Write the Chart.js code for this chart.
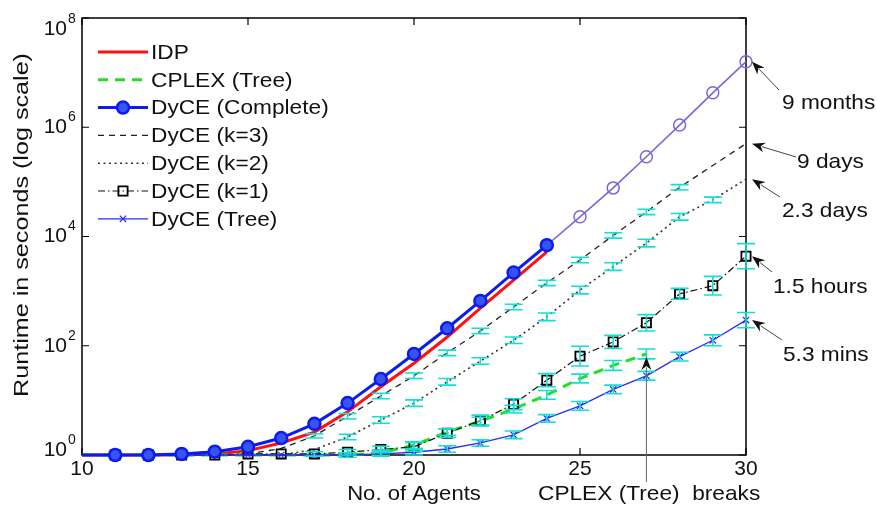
<!DOCTYPE html>
<html>
<head>
<meta charset="utf-8">
<script src="https://cdn.jsdelivr.net/npm/chart.js@4.4.0/dist/chart.umd.min.js"></script>
<style>
  html, body { margin: 0; padding: 0; background: #fff; }
  #wrap { width: 877px; height: 514px; }
</style>
</head>
<body>
<div id="wrap"><canvas id="chart"></canvas></div>
<script>
// No. of agents (x axis)
const agents = [10, 11, 12, 13, 14, 15, 16, 17, 18, 19, 20, 21, 22, 23, 24, 25, 26, 27, 28, 29, 30];

// Runtimes as log10(seconds)
const idpExp        = [0, 0, 0, 0, 0.02, 0.08, 0.22, 0.42, 0.79, 1.25, 1.68, 2.16, 2.69, 3.2, 3.72];           // 10..24
const cplexExp      = [0, 0, 0, 0, 0, 0, 0, 0, 0, 0.04, 0.18, 0.42, 0.62, 0.84, 1.1, 1.4, 1.64, 1.85];      // 10..27
const completeExp   = [0, 0, 0, 0.02, 0.06, 0.15, 0.31, 0.57, 0.95, 1.39, 1.85, 2.32, 2.82, 3.34, 3.84];     // 10..24
const completeExtX  = [24, 25, 26, 27, 28, 29, 30];
const completeExtExp = [3.84, 4.36, 4.89, 5.46, 6.04, 6.63, 7.2];
const k3Exp   = [0, 0, 0, 0, 0, 0.02, 0.12, 0.35, 0.71, 1.08, 1.45, 1.87, 2.27, 2.71, 3.15, 3.57, 4.02, 4.45, 4.9, 5.3, 5.7];
const k2Exp   = [0, 0, 0, 0, 0, 0, 0, 0.1, 0.33, 0.64, 0.95, 1.34, 1.72, 2.1, 2.53, 3.02, 3.45, 3.88, 4.36, 4.67, 5.05];
const k1Exp   = [0, 0, 0, 0, 0, 0.02, 0.02, 0.02, 0.05, 0.1, 0.15, 0.4, 0.63, 0.93, 1.37, 1.81, 2.07, 2.42, 2.95, 3.1, 3.64];
const treeExp = [0, 0, 0, 0, 0, 0, 0, 0, 0, 0.02, 0.05, 0.11, 0.22, 0.37, 0.67, 0.9, 1.2, 1.45, 1.8, 2.1, 2.47];

// Error bar half widths (log10 units)
const cplexErr = [0, 0, 0, 0, 0, 0, 0, 0, 0.04, 0.05, 0.06, 0.06, 0.07, 0.07, 0.08, 0.08, 0.09, 0.09];
const k3Err   = [0, 0, 0, 0, 0, 0, 0, 0.04, 0.05, 0.05, 0.05, 0.05, 0.05, 0.05, 0.05, 0.05, 0.05, 0.05, 0.05, 0, 0];
const k2Err   = [0, 0, 0, 0, 0, 0, 0, 0, 0.05, 0.06, 0.06, 0.06, 0.06, 0.06, 0.07, 0.07, 0.07, 0.07, 0.06, 0.05, 0];
const k1Err   = [0, 0, 0, 0, 0, 0, 0, 0.04, 0.05, 0.06, 0.08, 0.08, 0.1, 0.1, 0.12, 0.18, 0.12, 0.15, 0.1, 0.17, 0.23];
const treeErr = [0, 0, 0, 0, 0, 0, 0, 0, 0, 0.04, 0.05, 0.06, 0.06, 0.07, 0.07, 0.08, 0.08, 0.08, 0.08, 0.1, 0.14];

// Axis ticks
const xTicks = [10, 15, 20, 25, 30];
const yTickExps = [0, 2, 4, 6, 8];

// Right-hand annotations: label, log10 value at 30 agents, text position, arrow tail
const notes = [
    { text: '9 months',  exp: completeExtExp[6], tx: 782, ty: 103, tail: [779, 90] },
    { text: '9 days',    exp: k3Exp[20],         tx: 797, ty: 162, tail: [796, 157] },
    { text: '2.3 days',  exp: k2Exp[20],         tx: 782, ty: 211, tail: [780, 197] },
    { text: '1.5 hours', exp: k1Exp[20],         tx: 773, ty: 287, tail: [772, 272] },
    { text: '5.3 mins',  exp: treeExp[20],       tx: 783, ty: 355, tail: [782, 340] }
];

const FONT = '"Liberation Sans", Arial, Helvetica, sans-serif';
const ERR_COLOR = '#12e0d2';

function pts(xs, exps) {
    return exps.map((e, i) => ({ x: xs[i], y: Math.pow(10, e) }));
}

// hide the marker sitting on the y axis
const hideFirst = r => ctx => (ctx.raw && ctx.raw.x === 10 ? 0 : r);

function txt(ctx, s, x, y, size, align, stretch) {
    ctx.save();
    ctx.font = size + 'px ' + FONT;
    ctx.fillStyle = '#111';
    ctx.textBaseline = 'middle';
    const w = ctx.measureText(s).width * (stretch || 1);
    let x0 = x;
    if (align === 'center') x0 = x - w / 2;
    if (align === 'right') x0 = x - w;
    ctx.translate(x0, y);
    ctx.scale(stretch || 1, 1);
    ctx.textAlign = 'left';
    ctx.fillText(s, 0, 0);
    ctx.restore();
}

function marker(ctx, ds, x, y) {
    const style = ds.pointStyle;
    const r = ds.legendRadius || 5;
    ctx.save();
    ctx.setLineDash([]);
    ctx.lineWidth = ds.pointBorderWidth || 1;
    ctx.strokeStyle = ds.pointBorderColor || ds.borderColor;
    ctx.fillStyle = ds.pointBackgroundColor || 'rgba(0,0,0,0)';
    ctx.beginPath();
    if (style === 'circle') {
        ctx.arc(x, y, r, 0, Math.PI * 2);
        ctx.fill();
        ctx.stroke();
    } else if (style === 'rect') {
        const s = r * Math.SQRT1_2;
        ctx.rect(x - s, y - s, 2 * s, 2 * s);
        ctx.fill();
        ctx.stroke();
    } else if (style === 'crossRot') {
        const s = r * Math.SQRT1_2;
        ctx.moveTo(x - s, y - s); ctx.lineTo(x + s, y + s);
        ctx.moveTo(x + s, y - s); ctx.lineTo(x - s, y + s);
        ctx.stroke();
    }
    ctx.restore();
}

function arrow(ctx, x1, y1, x2, y2, color) {
    const ang = Math.atan2(y2 - y1, x2 - x1);
    const len = 13, half = 5;
    ctx.save();
    ctx.strokeStyle = color;
    ctx.lineWidth = 1;
    ctx.beginPath();
    ctx.moveTo(x1, y1);
    ctx.lineTo(x2 - Math.cos(ang) * len * 0.8, y2 - Math.sin(ang) * len * 0.8);
    ctx.stroke();
    ctx.fillStyle = '#111';
    ctx.beginPath();
    ctx.moveTo(x2, y2);
    ctx.lineTo(x2 - Math.cos(ang) * len + Math.sin(ang) * half, y2 - Math.sin(ang) * len - Math.cos(ang) * half);
    ctx.lineTo(x2 - Math.cos(ang) * len * 0.7, y2 - Math.sin(ang) * len * 0.7);
    ctx.lineTo(x2 - Math.cos(ang) * len - Math.sin(ang) * half, y2 - Math.sin(ang) * len + Math.cos(ang) * half);
    ctx.closePath();
    ctx.fill();
    ctx.restore();
}

// Matlab style box, inward ticks, labels, legend, error bars and notes
const matlabFigure = {
    id: 'matlabFigure',
    beforeDatasetsDraw(chart) {
        const { ctx, chartArea: a, scales: { x, y } } = chart;
        ctx.save();
        ctx.strokeStyle = '#000';
        ctx.lineWidth = 1.5;
        ctx.strokeRect(a.left, a.top, a.right - a.left, a.bottom - a.top);
        ctx.lineWidth = 1.2;
        ctx.beginPath();
        xTicks.forEach(v => {
            const px = x.getPixelForValue(v);
            ctx.moveTo(px, a.bottom); ctx.lineTo(px, a.bottom - 7);
            ctx.moveTo(px, a.top); ctx.lineTo(px, a.top + 7);
        });
        yTickExps.forEach(e => {
            const py = y.getPixelForValue(Math.pow(10, e));
            ctx.moveTo(a.left, py); ctx.lineTo(a.left + 7, py);
            ctx.moveTo(a.right, py); ctx.lineTo(a.right - 7, py);
        });
        ctx.stroke();
        ctx.restore();
    },
    afterDatasetsDraw(chart) {
        const { ctx, scales: { x, y } } = chart;
        ctx.save();
        ctx.strokeStyle = ERR_COLOR;
        ctx.lineWidth = 1.6;
        ctx.setLineDash([]);
        chart.data.datasets.forEach(ds => {
            if (!ds.errExp) return;
            ds.data.forEach((p, i) => {
                const e = ds.errExp[i];
                if (!e) return;
                const c = Math.log10(p.y);
                const px = x.getPixelForValue(p.x);
                const lo = y.getPixelForValue(Math.pow(10, c - e));
                const hi = y.getPixelForValue(Math.pow(10, c + e));
                ctx.beginPath();
                ctx.moveTo(px, lo); ctx.lineTo(px, hi);
                ctx.moveTo(px - 9, lo); ctx.lineTo(px + 9, lo);
                ctx.moveTo(px - 9, hi); ctx.lineTo(px + 9, hi);
                ctx.stroke();
            });
        });
        ctx.restore();
    },
    afterDraw(chart) {
        const { ctx, chartArea: a, scales: { x, y } } = chart;

        // tick labels
        xTicks.forEach(v => txt(ctx, String(v), x.getPixelForValue(v), a.bottom + 14, 21, 'center'));
        yTickExps.forEach(e => {
            let py = y.getPixelForValue(Math.pow(10, e));
            if (e === 8) py += 11;
            if (e === 0) py -= 5;
            txt(ctx, '10', a.left - 15, py, 21, 'right');
            txt(ctx, String(e), a.left - 14, py - 10, 14, 'left');
        });

        // axis titles
        txt(ctx, 'No. of Agents', (a.left + a.right) / 2, 494, 21, 'center', 1.05);
        ctx.save();
        ctx.translate(22, 225);
        ctx.rotate(-Math.PI / 2);
        ctx.font = '21px ' + FONT;
        const tw = ctx.measureText('Runtime in seconds (log scale)').width;
        txt(ctx, 'Runtime in seconds (log scale)', 0, 0, 21, 'center', 344 / tw);
        ctx.restore();

        // legend
        let row = 0;
        chart.data.datasets.forEach(ds => {
            if (ds.inLegend === false) return;
            const ly = 52 + row * 27.8;
            ctx.save();
            ctx.strokeStyle = ds.borderColor;
            ctx.lineWidth = ds.borderWidth;
            ctx.setLineDash(ds.borderDash || []);
            ctx.beginPath();
            ctx.moveTo(98, ly); ctx.lineTo(148, ly);
            ctx.stroke();
            ctx.restore();
            if (ds.pointStyle && ds.pointRadius !== 0) marker(ctx, ds, 123, ly);
            txt(ctx, ds.label, 151, ly + 1, 21, 'left', 1.08);
            row++;
        });

        // runtime notes at 30 agents
        const x30 = x.getPixelForValue(30);
        notes.forEach(n => {
            const tipY = y.getPixelForValue(Math.pow(10, n.exp));
            arrow(ctx, n.tail[0], n.tail[1], x30 + 6, tipY, '#444');
            txt(ctx, n.text, n.tx, n.ty, 21, 'left', 1.08);
        });

        // CPLEX breaks marker
        const x27 = x.getPixelForValue(27);
        const cy = y.getPixelForValue(Math.pow(10, cplexExp[17]));
        arrow(ctx, x27, 482, x27, cy + 3, '#666');
        txt(ctx, 'CPLEX (Tree)  breaks', 538, 494, 21, 'left', 1.08);
    }
};

const datasets = [
    {
        label: 'IDP', data: pts(agents, idpExp),
        borderColor: '#ff1010', borderWidth: 3, pointRadius: 0, order: 6
    },
    {
        label: 'CPLEX (Tree)', data: pts(agents, cplexExp), errExp: cplexErr,
        borderColor: '#22dd22', borderWidth: 3, borderDash: [10, 7], pointRadius: 0, order: 3
    },
    {
        label: 'DyCE (Complete)', data: pts(agents, completeExp),
        borderColor: '#0a1cf0', borderWidth: 3,
        pointStyle: 'circle', pointRadius: hideFirst(6), legendRadius: 6,
        pointBackgroundColor: '#3a52ee', pointBorderColor: '#0a1cf0', pointBorderWidth: 2.5, order: 0
    },
    {
        label: 'DyCE (k=3)', data: pts(agents, k3Exp), errExp: k3Err,
        borderColor: '#222', borderWidth: 1.3, borderDash: [6, 5], pointRadius: 0, order: 5
    },
    {
        label: 'DyCE (k=2)', data: pts(agents, k2Exp), errExp: k2Err,
        borderColor: '#333', borderWidth: 1.6, borderDash: [2, 3.5], pointRadius: 0, order: 4
    },
    {
        label: 'DyCE (k=1)', data: pts(agents, k1Exp), errExp: k1Err,
        borderColor: '#111', borderWidth: 1.2, borderDash: [7, 3, 1.5, 3],
        pointStyle: 'rect', pointRadius: hideFirst(6.5), legendRadius: 6.5,
        pointBackgroundColor: 'rgba(255,255,255,0)', pointBorderColor: '#000', pointBorderWidth: 1.8, order: 2
    },
    {
        label: 'DyCE (Tree)', data: pts(agents, treeExp), errExp: treeErr,
        borderColor: '#2a2cf0', borderWidth: 1.3,
        pointStyle: 'crossRot', pointRadius: hideFirst(4.5), legendRadius: 4.5,
        pointBorderColor: '#2a2cf0', pointBorderWidth: 1.2, order: 1
    },
    {
        label: 'DyCE (Complete) extrapolated', inLegend: false, data: pts(completeExtX, completeExtExp),
        borderColor: '#7a66d8', borderWidth: 1.6,
        pointStyle: 'circle', pointRadius: 6, pointBackgroundColor: 'rgba(255,255,255,0)',
        pointBorderColor: '#7a66d8', pointBorderWidth: 1.5, order: 7
    }
];
datasets.forEach(ds => { ds.fill = false; ds.tension = 0; ds.clip = false; });

new Chart(document.getElementById('chart'), {
    type: 'line',
    data: { datasets: datasets },
    options: {
        responsive: true,
        maintainAspectRatio: false,
        animation: false,
        layout: { padding: { left: 82, right: 131, top: 18, bottom: 59 } },
        plugins: { legend: { display: false }, tooltip: { enabled: false } },
        scales: {
            x: { type: 'linear', min: 10, max: 30, display: false },
            y: { type: 'logarithmic', min: 1, max: 1e8, display: false }
        }
    },
    plugins: [matlabFigure]
});
</script>
</body>
</html>
